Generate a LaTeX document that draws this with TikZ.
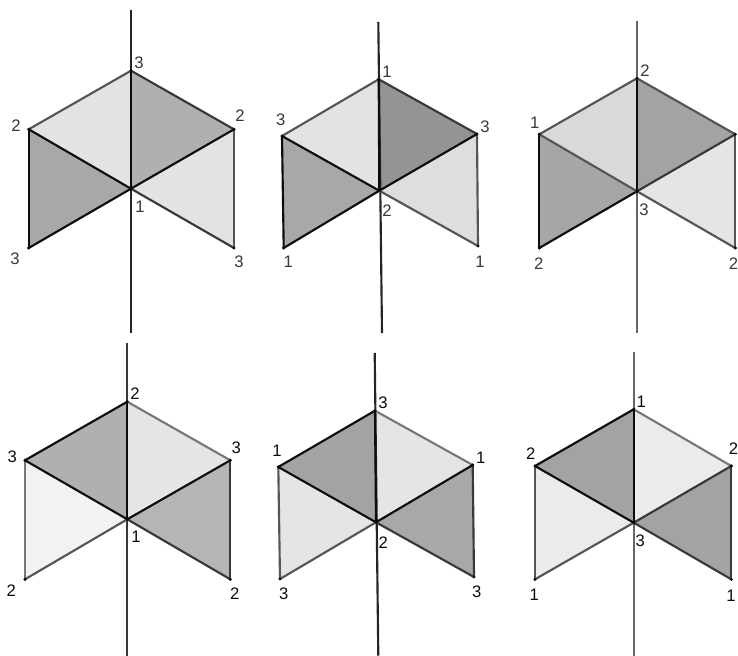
\documentclass[tikz,border=0pt]{standalone}
\usepackage{fontspec}
\setmainfont{Liberation Sans}
\definecolor{ek}{HTML}{0D0D0D}
\definecolor{ed}{HTML}{383838}
\definecolor{eg}{HTML}{555555}
\definecolor{el}{HTML}{777777}
\definecolor{ea}{HTML}{666666}
\tikzset{
  ek/.style={draw=ek},
  ed/.style={draw=ed},
  eg/.style={draw=eg},
  el/.style={draw=el},
  ea/.style={draw=ea},
  facet/.style={draw=none},
  stroke/.style={line width=1.6pt,line cap=round},
  axisline/.style={line width=1.6pt},
  num/.style={inner sep=0pt,font=\fontsize{12.5pt}{14pt}\selectfont},
  dot/.style={circle,fill=ek,inner sep=0pt,minimum size=2.6pt}
}
\newcommand{\setpanel}[8]{%
  \coordinate (c) at (#1);\coordinate (t) at (#2);\coordinate (l) at (#3);\coordinate (r) at (#4);%
  \coordinate (bl) at (#5);\coordinate (br) at (#6);\coordinate (at) at (#7);\coordinate (ab) at (#8);}
\newcommand{\panelfill}[4]{%
  \fill[facet,fill=black!#1] (c)--(l)--(t)--cycle;
  \fill[facet,fill=black!#2] (c)--(t)--(r)--cycle;
  \fill[facet,fill=black!#3] (c)--(l)--(bl)--cycle;
  \fill[facet,fill=black!#4] (c)--(r)--(br)--cycle;}
\newcommand{\paneledges}[9]{%
  \draw[stroke,#1] (l)--(t);
  \draw[stroke,#2] (t)--(r);
  \draw[stroke,#8] (l)--(bl);
  \draw[stroke,#9] (r)--(br);
  \draw[stroke,#6] (c)--(bl);
  \draw[stroke,#7] (c)--(br);
  \draw[stroke,#3] (l)--(c);
  \draw[stroke,#4] (r)--(c);
  \draw[stroke,#5] (t)--(c);
  \foreach \v in {c,t,l,r,bl,br}{\node[dot] at (\v) {};}}
\begin{document}
\begin{tikzpicture}[x=0.75pt,y=-0.75pt]
\useasboundingbox (0,0) rectangle (738,656);
\fill[white] (0,0) rectangle (738,656);
% panel 1
\begin{scope}
\setpanel{131,188.7}{131,70.7}{28.7,129.3}{234,129.3}{28.7,248}{234,248}{131,10}{131,333}
\panelfill{11}{31}{34}{11}
\draw[axisline,ek!90] (at)--(ab);
\paneledges{eg}{ed}{ek}{ek}{ek}{ek}{ed}{ek}{eg}
\begin{scope}[every node/.style={num,text=ed}]
\node (n1) at (139,62.7) {3}; \node (n2) at (16,126) {2}; \node (n3) at (240,116) {2};
\node (n4) at (15,259) {3}; \node (n5) at (239,262) {3}; \node (n6) at (140,207) {1};
\end{scope}
\end{scope}
% panel 2
\begin{scope}
\setpanel{379.3,190.7}{378.7,79.3}{282,136}{477,134}{283.7,248}{478,246}{378.3,22}{382,333}
\panelfill{11}{42}{34}{13}
\draw[axisline,ek!90] (at)--(ab);
\paneledges{eg}{ed}{ek}{ek}{ek}{ek}{eg}{ek}{eg}
\begin{scope}[every node/.style={num,text=ed}]
\node (n7) at (387,71.3) {1}; \node (n8) at (280.7,120) {3}; \node (n9) at (485,126.7) {3};
\node (n10) at (288.3,261.7) {1}; \node (n11) at (480,261.7) {1}; \node (n12) at (387,211) {2};
\end{scope}
\end{scope}
% panel 3
\begin{scope}
\setpanel{637,191.3}{637,78.3}{539.3,134.3}{735.3,134.3}{539.3,248}{735.3,248}{637,21.3}{637,333}
\panelfill{15}{36}{35}{10}
\draw[axisline,ea] (at)--(ab);
\paneledges{eg}{eg}{eg}{ed}{ek}{ek}{eg}{ek}{eg}
\begin{scope}[every node/.style={num,text=ed}]
\node (n13) at (645,70.7) {2}; \node (n14) at (534.7,123) {1}; \node (n15) at (538.7,263.3) {2};
\node (n16) at (733.4,264) {2}; \node (n17) at (644,209.7) {3};
\end{scope}
\end{scope}
% panel 4
\begin{scope}
\setpanel{127.3,519.3}{127.3,401.7}{25,460.3}{230.3,460.3}{25,579.3}{230.3,579.3}{127.3,343}{127.3,655.7}
\panelfill{31}{10}{5}{29}
\draw[axisline,ed] (at)--(ab);
\paneledges{ek}{el}{ek}{ek}{ek}{eg}{ed}{el}{ed}
\begin{scope}[every node/.style={num,text=ek}]
\node (n18) at (135,394) {2}; \node (n19) at (12.3,456.7) {3}; \node (n20) at (236.3,448) {3};
\node (n21) at (11.3,590.7) {2}; \node (n22) at (234.7,593.3) {2}; \node (n23) at (136,536.7) {1};
\end{scope}
\end{scope}
% panel 5
\begin{scope}
\setpanel{376,522.3}{375,410.7}{278.3,467}{472.7,465}{280,579}{474,577}{374.7,353}{378.3,655.7}
\panelfill{36}{10}{10}{34}
\draw[axisline,ek!90] (at)--(ab);
\paneledges{ek}{el}{ek}{ek}{ek}{eg}{ed}{eg}{ed}
\begin{scope}[every node/.style={num,text=ek}]
\node (n24) at (383,402.7) {3}; \node (n25) at (277,451) {1}; \node (n26) at (480.7,458) {1};
\node (n27) at (283.7,593.3) {3}; \node (n28) at (476.7,592) {3}; \node (n29) at (383.3,542.3) {2};
\end{scope}
\end{scope}
% panel 6
\begin{scope}
\setpanel{633.7,522.7}{633.7,409.3}{535,466}{731.3,466}{535,579.3}{731.3,579.3}{633.7,352.3}{633.7,655.7}
\panelfill{36}{8}{8}{36}
\draw[axisline,ea] (at)--(ab);
\paneledges{ek}{el}{ek}{ed}{ek}{eg}{ed}{eg}{ed}
\begin{scope}[every node/.style={num,text=ek}]
\node (n30) at (641.3,402) {1}; \node (n31) at (530.7,453.3) {2}; \node (n32) at (733.4,448.3) {2};
\node (n33) at (534.3,595) {1}; \node (n34) at (731,595.7) {1}; \node (n35) at (640.3,541) {3};
\end{scope}
\end{scope}
\end{tikzpicture}
\end{document}
